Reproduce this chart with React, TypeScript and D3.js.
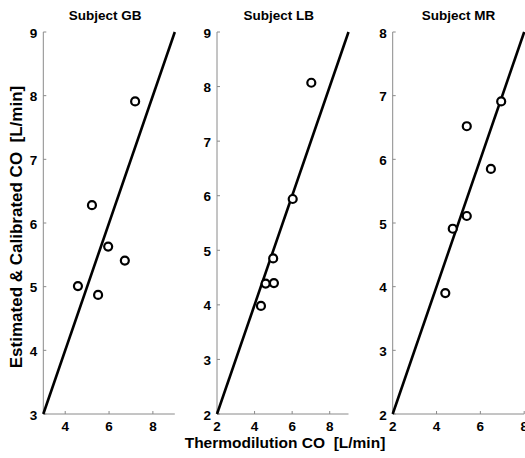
import React from 'react';
import * as d3 from 'd3';

// subject panels
const subjects = ['Subject GB', 'Subject LB', 'Subject MR'];
const xDomains = [[3, 9], [2, 9], [2, 8]];
const yDomains = [[3, 9], [2, 9], [2, 8]];
const xTicks = [[4, 6, 8], [2, 4, 6, 8], [2, 4, 6, 8]];
const yTicks = [[3, 4, 5, 6, 7, 8, 9], [2, 3, 4, 5, 6, 7, 8, 9], [2, 3, 4, 5, 6, 7, 8]];

// thermodilution (x) vs estimated (y)
const gbX = [4.58, 5.5, 5.22, 5.96, 6.72, 7.19];
const gbY = [5.01, 4.87, 6.28, 5.63, 5.41, 7.91];
const lbX = [4.34, 4.59, 5.03, 4.99, 6.03, 7.02];
const lbY = [3.98, 4.39, 4.4, 4.85, 5.94, 8.07];
const mrX = [4.4, 4.74, 5.38, 5.38, 6.48, 6.95];
const mrY = [3.9, 4.91, 5.11, 6.52, 5.85, 6.91];
const seriesX = [gbX, lbX, mrX];
const seriesY = [gbY, lbY, mrY];

const W = 525;
const H = 458;
const panelLeft = [43.3, 217, 392.7];
const panelWidth = 131.5;
const top = 32;
const bottom = 414;
const font = '"Liberation Sans", Arial, sans-serif';
const axisColor = '#8a8a8a';

function Panel({ i }: { i: number }) {
  const x = d3.scaleLinear().domain(xDomains[i]).range([panelLeft[i], panelLeft[i] + panelWidth]);
  const y = d3.scaleLinear().domain(yDomains[i]).range([bottom, top]);
  const lo = Math.max(xDomains[i][0], yDomains[i][0]);
  const hi = Math.min(xDomains[i][1], yDomains[i][1]);
  const line = d3.line<number>().x((d) => x(d)).y((d) => y(d));
  const x0 = x.range()[0];
  return (
    <g>
      <text x={x0 + panelWidth / 2 - (i < 2 ? 4 : 0)} y={20} textAnchor="middle" fontFamily={font} fontWeight="bold" fontSize={13.5}>
        {subjects[i]}
      </text>
      <line x1={x0} x2={x0} y1={top} y2={bottom} stroke={axisColor} strokeWidth={1} />
      <line x1={x0} x2={x.range()[1]} y1={bottom} y2={bottom} stroke={axisColor} strokeWidth={1} />
      {yTicks[i].map((t) => (
        <g key={'y' + t}>
          <line x1={x0} x2={x0 + 3} y1={y(t)} y2={y(t)} stroke={axisColor} />
          <text x={x0 - 6} y={y(t) + 5.5} textAnchor="end" fontFamily={font} fontWeight="bold" fontSize={13.5}>
            {t}
          </text>
        </g>
      ))}
      {xTicks[i].map((t) => (
        <g key={'x' + t}>
          <line x1={x(t)} x2={x(t)} y1={bottom} y2={bottom - 3} stroke={axisColor} />
          <text x={x(t)} y={431} textAnchor="middle" fontFamily={font} fontWeight="bold" fontSize={13.5}>
            {t}
          </text>
        </g>
      ))}
      <path d={line([lo, hi]) || ''} stroke="#000" strokeWidth={2.6} fill="none" />
      {seriesX[i].map((v, k) => (
        <circle key={k} cx={x(v)} cy={y(seriesY[i][k])} r={4} fill="#fff" stroke="#000" strokeWidth={2.2} />
      ))}
    </g>
  );
}

export default function App() {
  return (
    <svg width={W} height={H} style={{ position: 'absolute', left: 0, top: 0, background: '#fff' }}>
      {subjects.map((s, i) => (
        <Panel key={s} i={i} />
      ))}
      <text
        transform="translate(22,227) rotate(-90)"
        textAnchor="middle"
        fontFamily={font}
        fontWeight="bold"
        fontSize={17}
      >
        Estimated &amp; Calibrated CO{'\u00a0\u00a0'}[L/min]
      </text>
      <text x={285} y={448} textAnchor="middle" fontFamily={font} fontWeight="bold" fontSize={15.5}>
        Thermodilution CO{'\u00a0\u00a0'}[L/min]
      </text>
    </svg>
  );
}
